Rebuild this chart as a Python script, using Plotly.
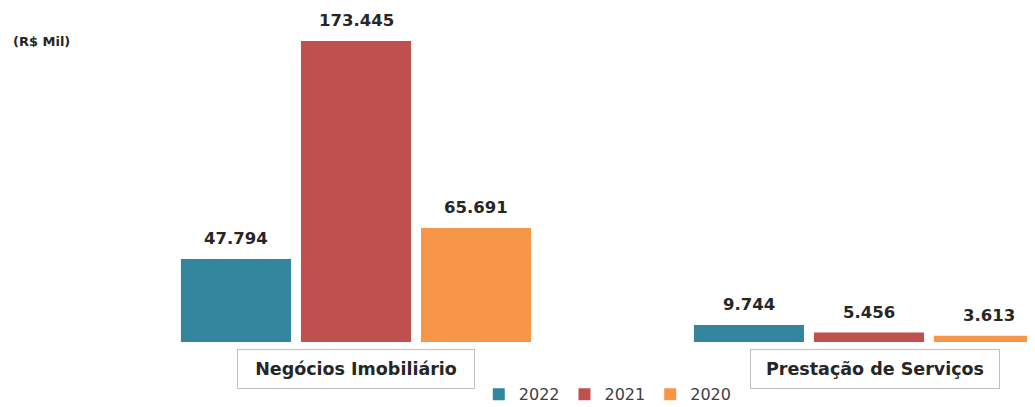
import plotly.graph_objects as go

categories = ["Negócios Imobiliário", "Prestação de Serviços"]
years = ["2022", "2021", "2020"]
values_2022 = [47794, 9744]
values_2021 = [173445, 5456]
values_2020 = [65691, 3613]
labels_2022 = ["47.794", "9.744"]
labels_2021 = ["173.445", "5.456"]
labels_2020 = ["65.691", "3.613"]
colors = ["#31859C", "#C0504D", "#F79646"]

series = [(values_2022, labels_2022), (values_2021, labels_2021), (values_2020, labels_2020)]

fig = go.Figure()
for (vals, labs), name, col in zip(series, years, colors):
    fig.add_trace(go.Bar(x=categories, y=vals, name=name, marker_color=col,
                         marker_line_width=0))

# value labels above bars
for j, (vals, labs) in enumerate(series):
    for c, v, t in zip(categories, vals, labs):
        fig.add_annotation(
            x=c, y=v, xref="x", yref="y", text="<b>%s</b>" % t, showarrow=False,
            xshift=(j - 1) * 120, yshift=9, yanchor="bottom",
            font=dict(family="DejaVu Sans", size=16.5, color="#262626"),
        )

# boxed category labels
box_widths = [236, 248]
box_shifts = [0, 6]
for c, w, s in zip(categories, box_widths, box_shifts):
    fig.add_annotation(
        x=c, xref="x", y=-0.021, yref="paper", yanchor="top", xshift=s,
        text="<b>%s</b>" % c, showarrow=False,
        font=dict(family="DejaVu Sans", size=17.5, color="#262626"),
        bordercolor="#BFBFBF", borderwidth=1, borderpad=0,
        width=w, height=38, bgcolor="white",
    )

fig.add_annotation(
    x=3 / 1027, xref="paper", y=0.912, yref="paper", xanchor="left", yanchor="middle",
    text="<b>(R$ Mil)</b>", showarrow=False,
    font=dict(family="DejaVu Sans", size=13, color="#262626"),
)

fig.update_layout(
    width=1027, height=399,
    margin=dict(l=0, r=0, t=4, b=65),
    paper_bgcolor="white", plot_bgcolor="white",
    barmode="group", bargap=0.298, bargroupgap=0.083,
    xaxis=dict(range=[-0.6784, 1.3236], showticklabels=False, showgrid=False,
               zeroline=False, showline=False, ticks=""),
    yaxis=dict(range=[0, 190155], visible=False),
    legend=dict(orientation="h", x=0.584, xanchor="center",
                yref="container", y=0.032, yanchor="middle",
                font=dict(family="DejaVu Sans", size=16, color="#404040"),
                itemwidth=30, traceorder="normal", borderwidth=0),
    showlegend=True,
)

fig.write_html("out.html")
